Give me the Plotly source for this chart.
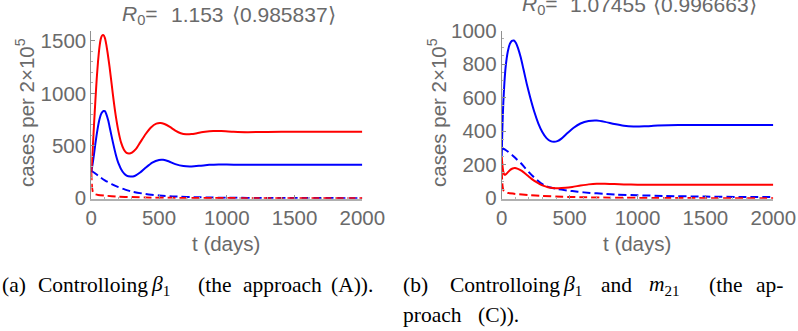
import plotly.graph_objects as go

# ---------------- data ----------------
# Panel (a): approach (A)
a_red_solid_t = [0, 10, 20, 30, 40, 50, 60, 70, 80, 90, 100, 110, 120, 135, 150, 165, 180, 200, 220, 240, 260, 280, 300, 330, 360, 400, 440, 480, 510, 540, 580, 620, 660, 700, 740, 780, 840, 900, 960, 1050, 1150, 1300, 1500, 1750, 2000]
a_red_solid_v = [250, 460, 700, 930, 1140, 1310, 1440, 1520, 1553, 1555, 1530, 1470, 1390, 1250, 1090, 930, 790, 640, 530, 465, 432, 426, 435, 470, 530, 610, 675, 712, 718, 708, 680, 645, 620, 610, 612, 620, 633, 640, 640, 634, 630, 632, 634, 634, 634]
a_blue_solid_t = [0, 10, 20, 30, 45, 60, 75, 90, 100, 110, 125, 140, 160, 180, 200, 230, 260, 290, 320, 360, 400, 450, 500, 530, 570, 620, 680, 740, 800, 870, 940, 1000, 1100, 1250, 1500, 2000]
a_blue_solid_v = [250, 330, 420, 520, 650, 750, 810, 832, 830, 805, 740, 650, 530, 420, 335, 255, 215, 206, 212, 245, 290, 340, 365, 366, 352, 325, 306, 303, 309, 318, 322, 321, 318, 319, 320, 320]
a_blue_dash_t = [0, 25, 50, 100, 150, 200, 250, 300, 400, 500, 600, 800, 1000, 1300, 1600, 2000]
a_blue_dash_v = [262, 240, 215, 170, 135, 105, 82, 63, 40, 26, 17, 8, 4, 2, 1, 0]
a_red_dash_t = [0, 3, 6, 10, 15, 22, 30, 50, 100, 200, 300, 400, 600, 900, 1300, 2000]
a_red_dash_v = [250, 150, 95, 65, 50, 42, 37, 31, 24, 15, 10, 6, 3, 1, 0, 0]

# Panel (b): approach (C)
b_blue_solid_t = [0, 5, 12, 20, 30, 45, 60, 75, 90, 105, 120, 140, 160, 185, 210, 240, 270, 300, 330, 360, 385, 410, 440, 480, 530, 580, 640, 700, 760, 830, 900, 970, 1050, 1150, 1300, 1500, 2000]
b_blue_solid_v = [250, 420, 570, 690, 790, 875, 920, 938, 940, 925, 895, 840, 770, 680, 600, 515, 445, 393, 358, 340, 336, 340, 355, 385, 420, 445, 460, 463, 455, 442, 432, 428, 429, 433, 436, 436, 436]
b_red_solid_t = [0, 5, 10, 18, 25, 35, 50, 65, 80, 98, 115, 135, 160, 190, 220, 250, 280, 310, 340, 380, 420, 470, 520, 580, 640, 700, 760, 830, 900, 1000, 1200, 1500, 2000]
b_red_solid_v = [250, 200, 165, 142, 139, 145, 158, 170, 177, 179, 176, 168, 155, 135, 115, 98, 84, 73, 65, 60, 59, 62, 67, 75, 82, 86, 86, 84, 82, 80, 80, 80, 80]
b_blue_dash_t = [0, 25, 50, 80, 110, 140, 170, 200, 230, 260, 290, 320, 360, 400, 480, 560, 650, 750, 850, 1000, 1200, 1500, 1800, 2000]
b_blue_dash_v = [299, 290, 275, 255, 232, 210, 182, 155, 130, 108, 88, 74, 63, 56, 46, 38, 31, 26, 21, 17, 13, 9, 7, 6]
b_red_dash_t = [0, 3, 6, 10, 15, 22, 30, 50, 100, 200, 300, 450, 600, 800, 1100, 1500, 2000]
b_red_dash_v = [160, 110, 75, 55, 44, 38, 34, 30, 25, 18, 13, 8, 5, 3, 1, 0, 0]

title_a_parts = ["<i>R</i><sub>0</sub>=", "1.153", "\u27e80.985837\u27e9"]
title_b_parts = ["<i>R</i><sub>0</sub>=", "1.07455", "\u27e80.996663\u27e9"]
y_label = "cases per 2\u00d710<sup>5</sup>"
x_label = "t (days)"
x_ticks = [0, 500, 1000, 1500, 2000]
a_y_ticks = [0, 500, 1000, 1500]
b_y_ticks = [0, 200, 400, 600, 800, 1000]

caption_a_words = ["(a)", "Controlloing", "<i>\u03b2</i><sub>1</sub>", "(the", "approach", "(A))."]
caption_b1_words = ["(b)", "Controlloing", "<i>\u03b2</i><sub>1</sub>", "and", "<i>m</i><sub>21</sub>", "(the", "ap-"]
caption_b2_words = ["proach", "(C))."]

# ---------------- figure ----------------
W, H = 798, 331
GRAY = "#6a6a6a"
FONT = "Liberation Sans"
SERIF = "Liberation Serif"
RED = "#ff0000"
BLUE = "#0000ff"
DASH = "8px,4px"

def px(x):
    return x / W

def py(y):
    return 1 - y / H

fig = go.Figure()

def add(t, v, color, dash, xa, ya):
    fig.add_trace(go.Scatter(x=t, y=v, mode="lines", xaxis=xa, yaxis=ya,
                             line=dict(color=color, width=2, dash=dash, shape="spline", smoothing=0.6),
                             showlegend=False, hoverinfo="skip"))

add(a_blue_dash_t, a_blue_dash_v, BLUE, DASH, "x", "y")
add(a_red_dash_t, a_red_dash_v, RED, DASH, "x", "y")
add(a_blue_solid_t, a_blue_solid_v, BLUE, "solid", "x", "y")
add(a_red_solid_t, a_red_solid_v, RED, "solid", "x", "y")

add(b_blue_dash_t, b_blue_dash_v, BLUE, DASH, "x2", "y2")
add(b_red_dash_t, b_red_dash_v, RED, DASH, "x2", "y2")
add(b_red_solid_t, b_red_solid_v, RED, "solid", "x2", "y2")
add(b_blue_solid_t, b_blue_solid_v, BLUE, "solid", "x2", "y2")

ydom = [py(198.8), py(30.5)]

def xaxis(dom, anchor):
    return dict(domain=dom, anchor=anchor, range=[0, 2000], tickvals=x_ticks,
                automargin=False,
                showline=True, linecolor="#b0b0b0", linewidth=2, ticks="inside",
                ticklen=4, tickcolor="#909090", showgrid=False, zeroline=False,
                tickfont=dict(family=FONT, size=20.5, color=GRAY),
                minor=dict(dtick=100, ticks="inside", ticklen=2, tickcolor="#b0b0b0"),
                fixedrange=True)

def yaxis(rng, ticks, dtick_minor, anchor):
    return dict(domain=ydom, anchor=anchor, range=rng, tickvals=ticks,
                automargin=False,
                showline=True, linecolor="#909090", linewidth=1, ticks="inside",
                ticklen=4, tickcolor="#909090", showgrid=False, zeroline=False,
                tickfont=dict(family=FONT, size=20.5, color=GRAY),
                minor=dict(dtick=dtick_minor, ticks="inside", ticklen=2, tickcolor="#b0b0b0"),
                fixedrange=True)

fig.update_layout(
    width=W, height=H, margin=dict(l=0, r=0, t=0, b=0, pad=0),
    paper_bgcolor="white", plot_bgcolor="white",
    xaxis=xaxis([px(91.3), px(362.3)], "y"),
    yaxis=yaxis([-6, 1600], a_y_ticks, 100, "x"),
    xaxis2=xaxis([px(501.7), px(773.3)], "y2"),
    yaxis2=yaxis([-4, 1000], b_y_ticks, 50, "x2"),
)

ann = []
def text(x, y, s, size=20, color=GRAY, family=FONT, angle=0, xanchor="center"):
    ann.append(dict(x=px(x), y=py(y), xref="paper", yref="paper", text=s, showarrow=False,
                    xanchor=xanchor, yanchor="middle", textangle=angle, borderpad=0,
                    font=dict(family=family, size=size, color=color)))

for s, x in zip(title_a_parts, [121, 170, 231]):
    text(x, 15, s, size=21, xanchor="left")
for s, x in zip(title_b_parts, [521, 569, 652]):
    text(x, 5, s, size=21, xanchor="left")
text(25, 113, y_label, size=20.5, angle=-90)
text(437, 113, y_label, size=20.5, angle=-90)
text(226, 243, x_label, size=20.5)
text(637, 243, x_label, size=20.5)

cap_a_x = [1, 37, 150, 197, 242, 330]
cap_b1_x = [402, 449, 562, 600, 648, 708, 755]
cap_b2_x = [402, 477]
for w, x in zip(caption_a_words, cap_a_x):
    text(x, 285, w, size=21.5, color="black", family=SERIF, xanchor="left")
for w, x in zip(caption_b1_words, cap_b1_x):
    text(x, 285, w, size=21.5, color="black", family=SERIF, xanchor="left")
for w, x in zip(caption_b2_words, cap_b2_x):
    text(x, 315, w, size=21.5, color="black", family=SERIF, xanchor="left")
fig.update_layout(annotations=ann)

fig.write_html("out.html", config={"displayModeBar": False},
               post_script="document.body.style.margin='0';document.body.style.padding='0';")
